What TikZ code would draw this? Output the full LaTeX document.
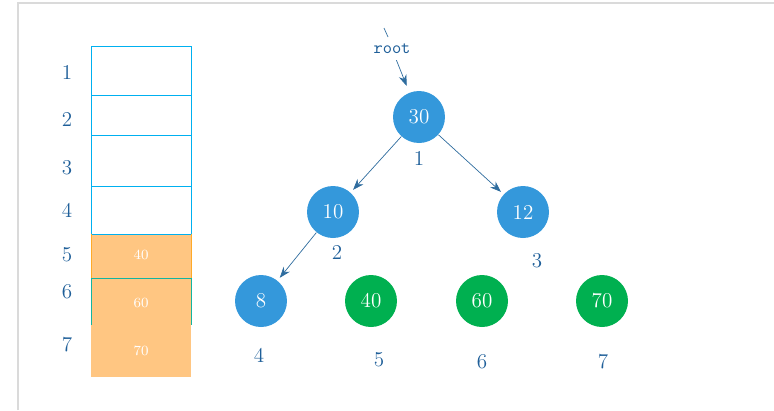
\documentclass[tikz,border=0pt]{standalone}
\usepackage{tikz}
\usepackage{xcolor}
\usetikzlibrary{arrows.meta, positioning, calc}
\definecolor{cNode}{RGB}{52,152,219}
\definecolor{cLeaf}{RGB}{0,176,80}
\definecolor{cText}{RGB}{31,95,153}
\definecolor{cEdge}{RGB}{46,108,158}
\definecolor{cCell}{RGB}{0,176,240}
\definecolor{cFill}{RGB}{255,198,130}
\definecolor{cOrangeLine}{RGB}{255,170,40}
\definecolor{cTeal}{RGB}{20,180,160}
\definecolor{cFrame}{RGB}{218,218,218}
\tikzset{
	treenode/.style ={circle, minimum size=1.04cm, inner sep=0pt, fill=cNode, text=white, font=\large},
	leafnode/.style ={treenode, fill=cLeaf},
	idx/.style      ={text=cText, font=\large},
	slot/.style     ={text=white, font=\footnotesize},
	edge/.style     ={-{Stealth[length=2.2mm, width=1.6mm]}, cEdge, thin},
}

\begin{document}
\begin{tikzpicture}[x=0.02cm, y=-0.02cm]
	\useasboundingbox (0,0) rectangle (774,410);
	\draw[cFrame, thick] (18,410) -- (18,3) -- (774,3);
	% array
	\fill[cFill] (91,234) rectangle (191,377);
	\draw[cCell] (91,46) rectangle (191,234);
	\foreach \y in {95,135,186} \draw[cCell] (91,\y) -- (191,\y);
	\draw[cOrangeLine] (91,234) -- (91,278) (191,234) -- (191,278);
	\draw[cTeal] (91,325) -- (91,278) -- (191,278) -- (191,325);
	\node[slot] (a5) at (141,255) {40};
	\node[slot] (a6) at (141,303) {60};
	\node[slot] (a7) at (141,351) {70};
	\foreach \i/\y in {1/72,2/119,3/168,4/210,5/255,6/292,7/345}
		\node[idx] (i\i) at (67,\y) {\i};
	% tree
	\node[treenode] (n1) at (419,117) {30};
	\node[treenode] (n2) at (333,212) {10};
	\node[treenode] (n3) at (523,212) {12};
	\node[treenode] (n4) at (261,301) {8};
	\node[leafnode] (n5) at (371,301) {40};
	\node[leafnode] (n6) at (482,301) {60};
	\node[leafnode] (n7) at (602,301) {70};
	\node[idx] (l1) at (419,158) {1};
	\node[idx] (l2) at (337,252) {2};
	\node[idx] (l3) at (537,261) {3};
	\node[idx] (l4) at (259,355) {4};
	\node[idx] (l5) at (379,360) {5};
	\node[idx] (l6) at (482,362) {6};
	\node[idx] (l7) at (603,362) {7};
	\node[text=cText, font=\ttfamily] (root) at (392,49) {root};
	\coordinate (tickA) at (384,28);
	\coordinate (tickB) at (388,37);
	\draw[cEdge] (tickA) -- (tickB);
	\draw[edge, shorten >=4pt] (root) -- (n1);
	\draw[edge, shorten >=2pt] (n1) -- (n2);
	\draw[edge, shorten >=2pt] (n1) -- (n3);
	\draw[edge, shorten >=2pt] (n2) -- (n4);
\end{tikzpicture}
\end{document}
